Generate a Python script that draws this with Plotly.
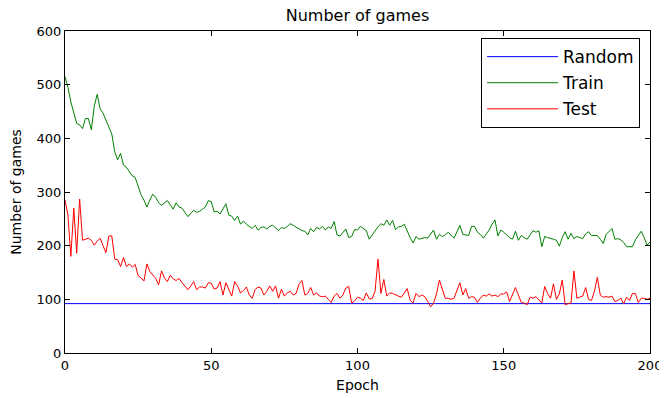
import plotly.graph_objects as go

epochs = list(range(201))

random_value = 92

train = [515, 495, 468, 445, 428, 425, 418, 437, 437, 416,
         460, 482, 455, 447, 435, 422, 408, 375, 360, 372,
         350, 346, 337, 330, 327, 312, 295, 285, 272, 285,
         296, 290, 280, 275, 280, 284, 276, 268, 280, 272,
         270, 262, 254, 260, 266, 262, 264, 268, 272, 284,
         282, 263, 264, 259, 270, 278, 257, 255, 247, 255,
         240, 246, 240, 236, 232, 238, 229, 234, 235, 231,
         236, 238, 233, 228, 234, 232, 236, 241, 238, 235,
         232, 228, 227, 220, 232, 226, 234, 231, 236, 229,
         235, 232, 245, 220, 218, 224, 231, 215, 217, 230,
         229, 236, 232, 228, 212, 220, 226, 235, 241, 238,
         248, 238, 247, 230, 235, 236, 240, 226, 215, 205,
         217, 212, 214, 215, 214, 222, 229, 212, 221, 217,
         220, 225, 219, 214, 226, 238, 221, 220, 219, 236,
         236, 225, 221, 214, 222, 229, 240, 248, 218, 229,
         225, 219, 215, 212, 227, 210, 219, 215, 212, 220,
         228, 225, 228, 198, 217, 215, 214, 212, 210, 199,
         215, 226, 212, 223, 213, 217, 215, 213, 222, 226,
         219, 219, 219, 212, 204, 221, 226, 232, 212, 213,
         211, 206, 198, 198, 198, 211, 218, 227, 215, 201,
         207]

test = [285, 257, 180, 270, 186, 287, 210, 212, 214, 210,
        201, 208, 214, 200, 187, 218, 218, 175, 174, 161,
        178, 161, 166, 160, 165, 144, 140, 134, 166, 152,
        145, 139, 127, 153, 140, 133, 145, 138, 135, 139,
        131, 125, 118, 125, 133, 118, 123, 123, 121, 131,
        130, 119, 121, 133, 108, 131, 118, 106, 133, 125,
        112, 116, 123, 108, 102, 118, 123, 121, 108, 115,
        125, 115, 125, 102, 119, 106, 112, 115, 108, 111,
        128, 135, 108, 111, 122, 108, 112, 106, 105, 106,
        100, 94, 106, 111, 102, 108, 121, 124, 93, 97,
        104, 102, 98, 112, 101, 101, 115, 175, 111, 137,
        106, 112, 111, 108, 106, 104, 112, 120, 98, 93,
        111, 105, 108, 105, 96, 86, 93, 110, 136, 120,
        102, 102, 100, 102, 115, 131, 108, 120, 102, 105,
        104, 94, 102, 108, 106, 110, 106, 108, 105, 110,
        110, 114, 96, 108, 122, 108, 94, 93, 90, 104,
        102, 105, 98, 93, 124, 111, 102, 129, 100, 110,
        136, 90, 92, 93, 153, 102, 104, 106, 122, 100,
        98, 115, 141, 108, 104, 105, 104, 106, 96, 98,
        102, 92, 104, 98, 111, 111, 94, 102, 102, 100,
        102]

x_ticks = [0, 50, 100, 150, 200]
y_ticks = [0, 100, 200, 300, 400, 500, 600]

fig = go.Figure()
fig.add_trace(go.Scatter(x=epochs, y=[random_value] * len(epochs), mode="lines",
                         name="Random", legendgroup="r",
                         line=dict(color="#0000ff", width=1)))
fig.add_trace(go.Scatter(x=epochs, y=train, mode="lines",
                         name="Train", legendgroup="tr",
                         line=dict(color="#008000", width=1)))
fig.add_trace(go.Scatter(x=epochs, y=test, mode="lines",
                         name="Test", legendgroup="te",
                         line=dict(color="#ff0000", width=1)))

axis_common = dict(showline=True, linecolor="black", linewidth=1, mirror="allticks",
                   ticks="inside", ticklen=5, tickcolor="black", showgrid=False,
                   zeroline=False, automargin=False,
                   tickfont=dict(size=13, color="black"))

fig.update_layout(
    width=659, height=390,
    margin=dict(l=57, r=17, t=23, b=45),
    paper_bgcolor="white", plot_bgcolor="white",
    font=dict(family="DejaVu Sans", color="black"),
    title=dict(text="Number of games", x=0.5, xref="paper", xanchor="center",
               y=1, yref="container", yanchor="top", pad=dict(t=2),
               font=dict(size=16, color="black")),
    xaxis=dict(range=[0, 200], tickvals=x_ticks, ticktext=[str(v) for v in x_ticks],
               title=dict(text="Epoch", font=dict(size=14), standoff=8), **axis_common),
    yaxis=dict(range=[0, 600], tickvals=y_ticks, ticktext=[str(v) for v in y_ticks],
               title=dict(text="Number of games", font=dict(size=14), standoff=13), **axis_common),
    legend=dict(x=0.983, y=0.978, xanchor="right", yanchor="top",
                bordercolor="black", borderwidth=1, bgcolor="white",
                font=dict(size=17, color="black"), itemwidth=71,
                tracegroupgap=1),
    showlegend=True,
)

fig.write_html("out.html")
